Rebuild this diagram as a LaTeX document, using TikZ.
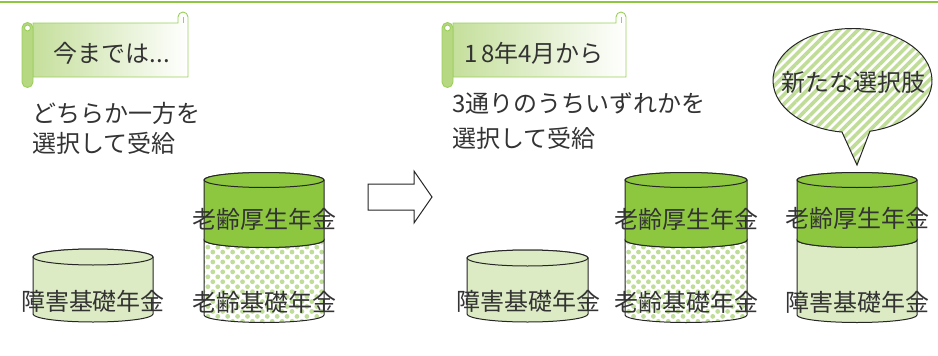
\documentclass[tikz,border=0pt]{standalone}
\usepackage{fontspec}
\setmainfont{Noto Sans CJK JP}
\usetikzlibrary{patterns.meta}
\definecolor{grmork}{HTML}{8DC63F}
\definecolor{grlys}{HTML}{DCEBC4}
\definecolor{grprikk}{HTML}{BFDD98}
\definecolor{grstripe}{HTML}{C0DD98}
\definecolor{grbanner}{HTML}{C5DF9C}
\definecolor{grrull}{HTML}{B7D883}
\definecolor{grkant}{HTML}{9BCF5A}
\definecolor{tekstgraa}{HTML}{333333}

\begin{document}
\begin{tikzpicture}[%
x=1pt,y=-1pt,
omriss/.style={draw=black!85,line width=1pt},
morkgronn/.style={omriss,fill=grmork},
lysgronn/.style={omriss,fill=grlys},
prikket/.style={omriss,pattern={Dots[radius=2.4pt,distance=7pt,angle=45]},pattern color=grprikk},
stripet/.style={omriss,pattern={Lines[angle=45,distance=6.6pt,line width=3.6pt]},pattern color=grstripe},
rull/.style={draw=grkant,line width=0.9pt},
tekst/.style={text=tekstgraa,font=\fontsize{24}{30}\selectfont,inner sep=0pt}]
\useasboundingbox (0,0) rectangle (938,356);
\draw [grmork,line width=2.5pt] (0,2) -- (938,2);

% bannere
\draw [rull,left color=grbanner,right color=white] (33,23) -- (178,23) -- (178,17)
  arc[start angle=180,end angle=0,radius=5pt] -- (188,77) -- (33,77) -- cycle;
\draw [rull] (183,17) -- (183,23);
\draw [rull,fill=grrull] (22,28) -- (22,82) arc[start angle=180,end angle=360,radius=5.5pt]
  -- (33,28) arc[start angle=0,end angle=180,radius=5.5pt] -- cycle;
\draw [rull,fill=white] (27.5,28) circle (3pt);
\node [tekst] (fortid) at (112,53) {今までは...};

\draw [rull,left color=grbanner,right color=white] (453,23) -- (616,23) -- (616,17)
  arc[start angle=180,end angle=0,radius=5pt] -- (626,77) -- (453,77) -- cycle;
\draw [rull] (621,17) -- (621,23);
\draw [rull,fill=grrull] (442,28) -- (442,82) arc[start angle=180,end angle=360,radius=5.5pt]
  -- (453,28) arc[start angle=0,end angle=180,radius=5.5pt] -- cycle;
\draw [rull,fill=white] (447.5,28) circle (3pt);
\node [tekst] (fra18) at (534,53) {1\,8年4月から};

\node [tekst,anchor=west] (valg1a) at (32,113) {どちらか一方を};
\node [tekst,anchor=west] (valg1b) at (32,143) {選択して受給};
\node [tekst,anchor=west] (valg3a) at (452,103) {3通りのうちいずれかを};
\node [tekst,anchor=west] (valg3b) at (452,138) {選択して受給};

% pil
\draw [omriss,fill=white] (368,184) -- (414,184) -- (414,171) -- (432,197)
  -- (414,223) -- (414,210) -- (368,210) -- cycle;

% sylindre
\draw [lysgronn] (33,257) -- (33,314) arc[start angle=180,end angle=360,x radius=60pt,y radius=8pt]
  -- (153,257) arc[start angle=0,end angle=180,x radius=60pt,y radius=8pt] -- cycle;
\draw [lysgronn] (93,257) ellipse [x radius=60pt,y radius=8pt];

\draw [prikket] (204,240) -- (204,315) arc[start angle=180,end angle=360,x radius=60pt,y radius=7.5pt]
  -- (324,240) arc[start angle=0,end angle=-180,x radius=60pt,y radius=7.5pt] -- cycle;
\draw [morkgronn] (204,180) -- (204,240) arc[start angle=180,end angle=360,x radius=60pt,y radius=7.5pt]
  -- (324,180) arc[start angle=0,end angle=180,x radius=60pt,y radius=7.5pt] -- cycle;
\draw [morkgronn] (264,180) ellipse [x radius=60pt,y radius=7.5pt];

\draw [lysgronn] (467,258) -- (467,314) arc[start angle=180,end angle=360,x radius=60.5pt,y radius=8pt]
  -- (588,258) arc[start angle=0,end angle=180,x radius=60.5pt,y radius=8pt] -- cycle;
\draw [lysgronn] (527.5,258) ellipse [x radius=60.5pt,y radius=8pt];

\draw [prikket] (625,240) -- (625,315) arc[start angle=180,end angle=360,x radius=61pt,y radius=7.5pt]
  -- (747,240) arc[start angle=0,end angle=-180,x radius=61pt,y radius=7.5pt] -- cycle;
\draw [morkgronn] (625,180) -- (625,240) arc[start angle=180,end angle=360,x radius=61pt,y radius=7.5pt]
  -- (747,180) arc[start angle=0,end angle=180,x radius=61pt,y radius=7.5pt] -- cycle;
\draw [morkgronn] (686,180) ellipse [x radius=61pt,y radius=7.5pt];

\draw [lysgronn] (797,240) -- (797,315) arc[start angle=180,end angle=360,x radius=60pt,y radius=7.5pt]
  -- (917,240) arc[start angle=0,end angle=-180,x radius=60pt,y radius=7.5pt] -- cycle;
\draw [morkgronn] (797,180) -- (797,240) arc[start angle=180,end angle=360,x radius=60pt,y radius=7.5pt]
  -- (917,180) arc[start angle=0,end angle=180,x radius=60pt,y radius=7.5pt] -- cycle;
\draw [morkgronn] (857,180) ellipse [x radius=60pt,y radius=7.5pt];

\node [tekst] (handikap1) at (93,301) {障害基礎年金};
\node [tekst] (alder1)    at (264,219) {老齢厚生年金};
\node [tekst] (grunn1)    at (264,302) {老齢基礎年金};
\node [tekst] (handikap2) at (528,301) {障害基礎年金};
\node [tekst] (alder2)    at (686,219) {老齢厚生年金};
\node [tekst] (grunn2)    at (686,302) {老齢基礎年金};
\node [tekst] (alder3)    at (857,218) {老齢厚生年金};
\node [tekst] (handikap3) at (857,302) {障害基礎年金};

% snakkeboble
\coordinate (boblesenter) at (852.5,80.5);
\draw [stripet] (boblesenter) ++(282.7:79.5pt and 52pt)
  arc[start angle=282.7,end angle=622.4,x radius=79.5pt,y radius=52pt] -- (857,165) -- cycle;
\node [tekst] (nyttvalg) at (853,82) {新たな選択肢};
\end{tikzpicture}
\end{document}
